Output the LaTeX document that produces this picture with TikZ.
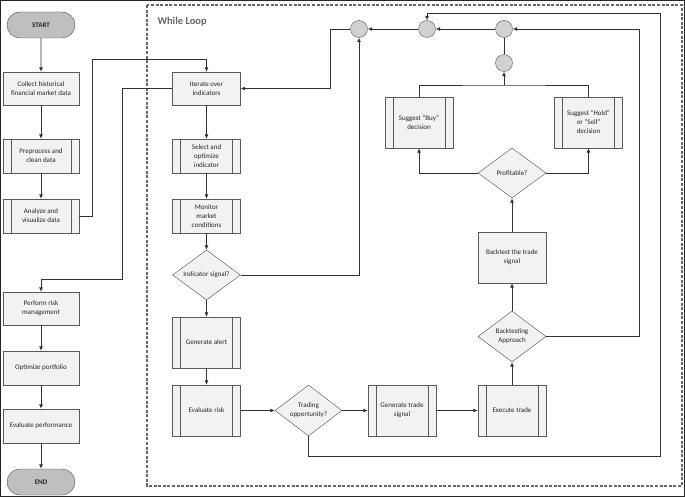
\documentclass[tikz,border=0pt]{standalone}
\usepackage{fontspec}
\setmainfont{Carlito}
\usepackage{tikz}
\usetikzlibrary{arrows.meta,shapes.geometric,shapes.misc}

\tikzset{
  every node/.style={font=\fontsize{7}{9}\selectfont, text=black!85, align=center},
  term/.style={rounded rectangle, draw=black!70, fill=black!25, minimum width=68pt, minimum height=26pt, inner sep=0pt, font=\fontsize{7}{9}\selectfont\bfseries},
  proc/.style={rectangle, draw=black!65, fill=black!5, minimum width=68pt, minimum height=33pt, inner sep=1pt},
  predef/.style={proc, path picture={
      \draw[black!65] ([xshift=8pt]path picture bounding box.north west) -- ([xshift=8pt]path picture bounding box.south west)
                      ([xshift=-8pt]path picture bounding box.north east) -- ([xshift=-8pt]path picture bounding box.south east);}},
  dec/.style={diamond, draw=black!70, fill=black!5, minimum width=68pt, minimum height=51pt, inner sep=0pt, aspect=1.35},
  junc/.style={circle, draw=black!65, fill=black!18, minimum size=17pt, inner sep=0pt},
  arr/.style={draw=black!80, line width=0.8pt, -{Latex[length=4.5pt,width=4pt]}},
  lin/.style={draw=black!80, line width=0.8pt}
}

\begin{document}
\begin{tikzpicture}[x=1pt,y=-1pt]
  \useasboundingbox (0,0) rectangle (685,497);
  \draw[black!85, line width=1.2pt] (0.6,0.6) rectangle (684.4,496.4);
  \draw[black!60, line width=2pt, dash pattern=on 3pt off 1.6pt] (147,5) rectangle (681.5,486);
  \node[anchor=west, font=\fontsize{10.5}{12}\selectfont\bfseries, text=black!60] (title) at (154,22) {While Loop};

  % outer steps
  \node[term] (start) at (41,25) {START};
  \node[proc, minimum width=76pt] (collect) at (41,88.5) {Collect historical\\financial market data};
  \node[predef, minimum width=76pt, minimum height=34pt] (prep) at (41,156) {Preprocess and\\clean data};
  \node[predef, minimum width=76pt, minimum height=34pt] (analyze) at (41,216) {Analyze and\\visualize data};
  \node[proc, minimum width=76pt] (risk) at (41,308.5) {Perform risk\\management};
  \node[proc, minimum width=76pt, minimum height=34pt] (optim) at (41,368) {Optimize portfolio};
  \node[proc, minimum width=76pt, minimum height=34pt] (evalp) at (41,426) {Evaluate performance};
  \node[term] (end) at (41,482) {END};

  % loop body
  \node[proc] (iter) at (206.5,88.5) {Iterate over\\indicators};
  \node[predef, minimum height=34pt] (select) at (206.5,156) {Select and\\optimize\\indicator};
  \node[predef, minimum height=34pt] (monitor) at (206.5,216) {Monitor\\market\\conditions};
  \node[dec, minimum height=50pt] (indsig) at (206.5,275) {Indicator signal?};
  \node[predef, minimum height=51pt] (alert) at (206.5,342.5) {Generate alert};
  \node[predef, minimum height=51pt] (evalr) at (206.5,410.5) {Evaluate risk};
  \node[dec, minimum width=67pt] (trading) at (308.5,410.5) {Trading\\opportunity?};
  \node[predef, minimum height=51pt] (gensig) at (402,410.5) {Generate trade\\signal};
  \node[predef, minimum height=51pt] (exec) at (512,410.5) {Execute trade};
  \node[dec] (btapp) at (512,336.5) {Backtesting\\Approach};
  \node[proc, minimum height=51pt] (bt) at (512,257.5) {Backtest the trade\\signal};
  \node[dec, minimum height=50pt] (profit) at (512,173) {Profitable?};
  \node[predef, minimum height=51pt] (buy) at (419,122.5) {Suggest "Buy"\\decision};
  \node[predef, minimum height=51pt] (hold) at (588.5,122.5) {Suggest "Hold"\\or "Sell"\\decision};

  % junctions
  \node[junc] (c1) at (359,29) {};
  \node[junc] (c2) at (427,29) {};
  \node[junc] (c3) at (504,29) {};
  \node[junc] (c4) at (504,63) {};

  \coordinate (k1) at (92,59);
  \coordinate (k2) at (122,279);
  \coordinate (k4) at (504,85);
  \coordinate (k5) at (639,29);
  \coordinate (k6) at (660,456);
  \coordinate (k7) at (660,13);

  % outer flow
  \draw[arr] (start) -- (collect);
  \draw[arr] (collect) -- (prep);
  \draw[arr] (prep) -- (analyze);
  \draw[arr] (analyze.east) -- (analyze.east -| k1) -- (k1) -| (iter.north);
  \draw[arr] (iter.west) -| (k2) -| (risk.north);
  \draw[arr] (risk) -- (optim);
  \draw[arr] (optim) -- (evalp);
  \draw[arr] (evalp) -- (end);

  % loop flow
  \draw[arr] (iter) -- (select);
  \draw[arr] (select) -- (monitor);
  \draw[arr] (monitor) -- (indsig);
  \draw[arr] (indsig) -- (alert);
  \draw[arr] (alert) -- (evalr);
  \draw[arr] (indsig.east) -| (c1.south);
  \draw[arr] (c1.west) -- ++(-20,0) |- (iter.east);
  \draw[arr] (evalr) -- (trading);
  \draw[arr] (trading) -- (gensig);
  \draw[arr] (gensig) -- (exec);
  \draw[arr] (exec) -- (btapp);
  \draw[arr] (btapp) -- (bt);
  \draw[arr] (bt) -- (profit);
  \draw[arr] (profit.west) -| (buy.south);
  \draw[arr] (profit.east) -| (hold.south);
  \draw[lin] (buy.north) |- (k4) -| (hold.north);
  \draw[arr] (k4) -- (c4.south);
  \draw[lin] (c4) -- (c3);
  \draw[arr] (c3) -- (c2);
  \draw[arr] (c2) -- (c1);
  \draw[arr] (btapp.east) -| (k5) -- (c3.east);
  \draw[arr] (trading.south) |- (k6) -- (k7) -| (c2.north);
\end{tikzpicture}
\end{document}
